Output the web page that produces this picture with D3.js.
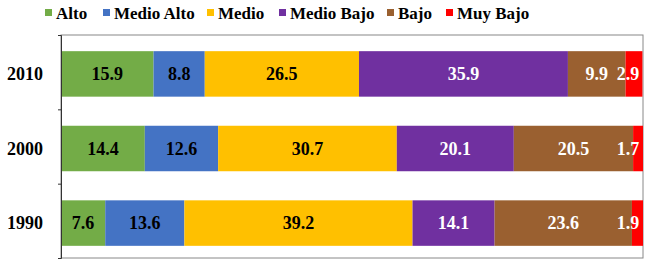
<!DOCTYPE html>
<html>
<head>
<meta charset="utf-8">
<script src="https://cdn.jsdelivr.net/npm/d3@7"></script>
<style>
  body { margin: 0; background: #fff; }
  svg { display: block; }
</style>
</head>
<body>
<svg id="chart" width="648" height="263"></svg>
<script>
const years = ["2010", "2000", "1990"];
const categories = ["Alto", "Medio Alto", "Medio", "Medio Bajo", "Bajo", "Muy Bajo"];
const colors = ["#73ac47", "#4473c4", "#ffc000", "#7030a0", "#9a6030", "#ff0000"];
const labelColors = ["#000", "#000", "#000", "#fff", "#fff", "#fff"];
const values2010 = [15.9, 8.8, 26.5, 35.9, 9.9, 2.9];
const values2000 = [14.4, 12.6, 30.7, 20.1, 20.5, 1.7];
const values1990 = [7.6, 13.6, 39.2, 14.1, 23.6, 1.9];
const legendX = [45, 103, 207, 279, 387, 446];

const rows = [values2010, values2000, values1990].map((vals, i) => {
  const o = { year: years[i] };
  categories.forEach((c, j) => o[c] = vals[j]);
  return o;
});

const FONT = "Liberation Serif";
const svg = d3.select("#chart");
const m = { left: 61, right: 643, top: 35, bottom: 258 };

const x = d3.scaleLinear().domain([0, 100]).range([m.left, m.right]);
const y = d3.scaleBand().domain(years).range([m.top + 2, m.bottom + 2]).paddingInner(0.39).paddingOuter(0.19);

// frame
svg.append("rect").attr("x", m.left).attr("y", m.top).attr("width", m.right - m.left).attr("height", m.bottom - m.top)
  .attr("fill", "none").attr("stroke", "#888").attr("stroke-width", 1);

const stack = d3.stack().keys(categories)(rows);

stack.forEach((layer, j) => {
  svg.append("g").selectAll("rect").data(layer).enter().append("rect")
    .attr("x", d => x(d[0]))
    .attr("y", d => y(d.data.year))
    .attr("width", d => x(d[1]) - x(d[0]))
    .attr("height", y.bandwidth())
    .attr("fill", colors[j]);
  svg.append("g").selectAll("text").data(layer).enter().append("text")
    .attr("x", d => Math.min((x(d[0]) + x(d[1])) / 2, m.right - 15))
    .attr("y", d => y(d.data.year) + y.bandwidth() / 2)
    .attr("dy", "0.35em")
    .attr("text-anchor", "middle")
    .attr("font-family", FONT).attr("font-weight", "bold")
    .attr("font-size", 18)
    .attr("fill", labelColors[j])
    .text(d => d3.format(".1f")(d.data[categories[j]]));
});

// left axis
const yAxis = svg.append("g").attr("transform", `translate(${m.left},0)`)
  .call(d3.axisLeft(d3.scaleLinear().domain([0, 3]).range([m.top, m.bottom])).ticks(3).tickSize(3).tickFormat(""));
yAxis.select(".domain").attr("stroke", "#333");
yAxis.selectAll(".tick line").attr("stroke", "#333");

svg.append("g").selectAll("text").data(years).enter().append("text")
  .attr("x", 25).attr("y", d => y(d) + y.bandwidth() / 2).attr("dy", "0.35em")
  .attr("text-anchor", "middle").attr("font-family", FONT).attr("font-weight", "bold")
  .attr("font-size", 18).attr("fill", "#000").text(d => d);

// legend
const legend = svg.append("g");
categories.forEach((c, j) => {
  legend.append("rect").attr("x", legendX[j]).attr("y", 9).attr("width", 7).attr("height", 7).attr("fill", colors[j]);
  legend.append("text").attr("x", legendX[j] + 11).attr("y", 13).attr("dy", "0.35em")
    .attr("font-family", FONT).attr("font-weight", "bold")
    .attr("font-size", 17).attr("fill", "#000").text(c);
});
</script>
</body>
</html>
